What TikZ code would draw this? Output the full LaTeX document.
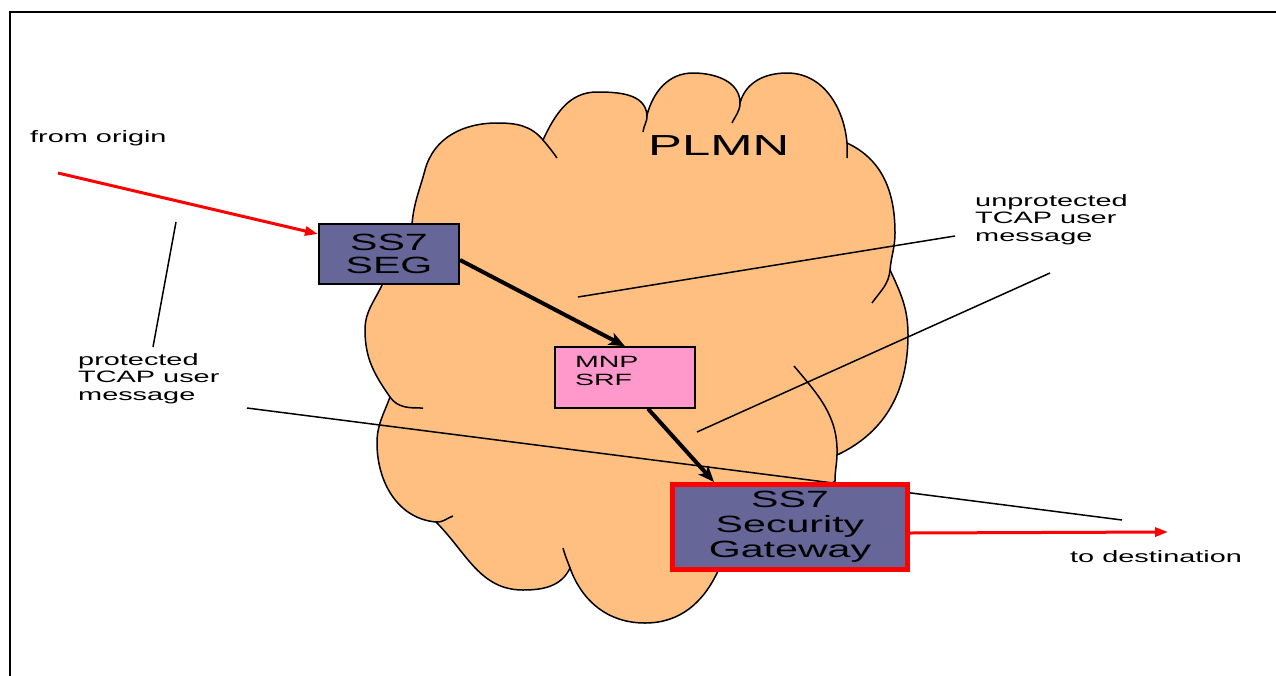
\documentclass[tikz,border=0pt]{standalone}
\usepackage{fontspec}
\setmainfont{Liberation Sans}[FakeStretch=1.75]
\usepackage{xcolor}
\usetikzlibrary{arrows.meta}
\definecolor{cloudorange}{RGB}{255,191,128}
\definecolor{segblue}{RGB}{102,102,153}
\definecolor{srfpink}{RGB}{255,153,204}
\tikzstyle{segbox} = [rectangle, 
minimum width=140pt, 
minimum height=60pt, 
inner sep=0pt, 
align=center, 
draw=black, line width=2pt, 
fill=segblue, 
font=\fontsize{23.5}{23}\selectfont]
\tikzstyle{srfbox} = [rectangle, 
minimum width=140pt, 
minimum height=61pt, 
inner sep=0pt, 
text width=100pt, 
text height=12pt, 
text depth=33pt, 
align=left, 
draw=black, line width=1.5pt, 
fill=srfpink, 
font=\fontsize{16.3}{18}\selectfont]
\tikzstyle{gatebox} = [rectangle, 
minimum width=235pt, 
minimum height=85pt, 
inner sep=0pt, 
align=center, 
draw=red, line width=5pt, 
fill=segblue, 
font=\fontsize{23.5}{25}\selectfont]
\tikzstyle{note} = [inner sep=0pt, align=left, 
font=\fontsize{16.5}{17.5}\selectfont]
\tikzstyle{cloudline} = [line width=1.5pt, black]
\tikzstyle{leader} = [line width=1.5pt, black]
\tikzstyle{redarrow} = [line width=3pt, red, -{Triangle[length=13pt,width=9pt]}]
\tikzstyle{blackarrow} = [line width=4pt, black, -{Stealth[length=16pt,width=13pt,inset=4pt]}]

\begin{document}
\begin{tikzpicture}[x=1pt, y=1pt]
\useasboundingbox (0,0) rectangle (1276,-675);

% frame
\draw[line width=2pt] (10,-680) |- (1280,-12);

% PLMN cloud
\draw[cloudline, fill=cloudorange] (412,-224)
  to[out=85,in=-105] (425,-170)
  to[out=75,in=180] (497,-123)
  to[out=0,in=130] (543,-140)
  to[out=65,in=180] (597,-92)
  to[out=0,in=95] (647,-115)
  to[out=75,in=180] (693,-73)
  to[out=0,in=90] (740,-103)
  to[out=75,in=180] (787,-73)
  to[out=0,in=95] (847,-143)
  to[out=-25,in=90] (895,-233)
  to[out=-90,in=85] (890,-270)
  to[out=-65,in=90] (908,-335)
  to[out=-90,in=25] (837,-455)
  to[out=-92,in=90] (835,-481)
  -- (718,-571)
  to[out=-115,in=0] (645,-623)
  to[out=180,in=-70] (570,-568)
  to[out=-115,in=0] (523,-590)
  to[out=180,in=-45] (436,-522)
  to[out=175,in=-90] (377,-443)
  to[out=90,in=-110] (390,-397)
  to[out=125,in=-90] (365,-330)
  to[out=90,in=-115] (382,-285)
  -- cycle;
% inner arcs of the cloud
\draw[cloudline] (543,-140) to[out=-50,in=125] (557,-158);
\draw[cloudline] (647,-115) to[out=-85,in=85] (643,-132);
\draw[cloudline] (740,-103) to[out=-90,in=65] (732,-123);
\draw[cloudline] (847,-143) to[out=-85,in=90] (847,-158);
\draw[cloudline] (890,-270) to[out=-95,in=55] (872,-303);
\draw[cloudline] (837,-455) to[out=88,in=-50] (794,-366);
\draw[cloudline] (390,-397) to[out=-55,in=180] (423,-408);
\draw[cloudline] (436,-522) to[out=-5,in=200] (453,-516);
\draw[cloudline] (570,-568) to[out=110,in=-75] (563,-548);

\node (plmn) [anchor=base west, inner sep=0pt, font=\fontsize{29}{30}\selectfont] at (648,-155) {PLMN};

% leader lines
\coordinate (protA) at (176,-222);
\coordinate (protB) at (153,-347);
\coordinate (protC) at (247,-408);
\coordinate (protD) at (1122,-520);
\coordinate (unprA) at (578,-297);
\coordinate (unprB) at (955,-236);
\coordinate (unprC) at (697,-432);
\coordinate (unprD) at (1050,-273);
\draw[leader] (protA) -- (protB);
\draw[leader] (protC) -- (protD);
\draw[leader] (unprA) -- (unprB);
\draw[leader] (unprC) -- (unprD);

% boxes
\node (seg) [segbox] at (389,-254) {SS7\\SEG};
\node (mnp) [srfbox] at (625,-377.5) {MNP\\SRF};
\node (gw) [gatebox] at (790,-527) {SS7\\Security\\Gateway};

% texts
\node (from) [note, anchor=base west] at (30,-142) {from origin};
\node (prot) [note, anchor=north west] at (78,-353) {protected\\TCAP user\\message};
\node (unpr) [note, anchor=north west] at (975,-194) {unprotected\\TCAP user\\message};
\node (to) [note, anchor=base west] at (1070,-562) {to destination};

% arrows
\coordinate (origin) at (58,-173);
\coordinate (dest) at (1168,-532);
\draw[redarrow] (origin) -- ([yshift=20pt]seg.west);
\draw[blackarrow] ([yshift=-6pt]seg.east) -- (mnp.north);
\draw[blackarrow] ([xshift=23pt]mnp.south) -- ([xshift=-76pt]gw.north);
\draw[redarrow] ([yshift=-6pt]gw.east) -- (dest);

\end{tikzpicture}
\end{document}
